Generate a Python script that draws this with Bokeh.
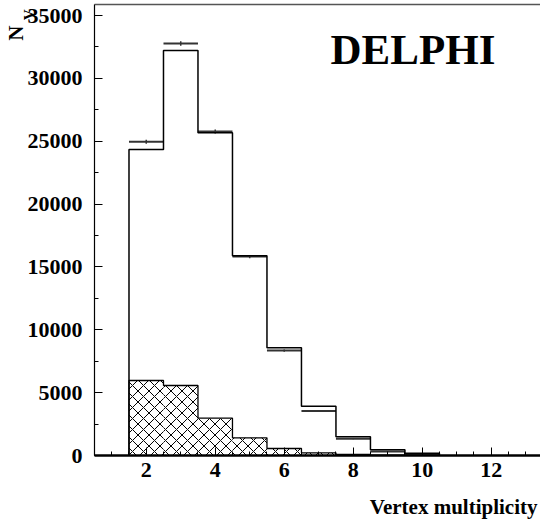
from bokeh.plotting import figure
from bokeh.models import (Range1d, SingleIntervalTicker, FixedTicker, LinearAxis,
                          Label, Title)
from bokeh.embed import file_html
from bokeh.resources import INLINE

# ---- data ----
bin_centers = [2, 3, 4, 5, 6, 7, 8, 9, 10]
mc_counts = [24340, 32216, 25670, 15880, 8570, 3920, 1500, 450, 185]
data_counts = [24950, 32770, 25770, 15820, 8350, 3530, 1330, 320, 100]
data_errors = [160, 180, 160, 130, 90, 60, 40, 20, 10]
bkg_counts = [5966, 5568, 2970, 1406, 557, 212, 80, 20, 0]
x_label = "Vertex multiplicity"
y_label = "N"
y_sub = "V"
title_text = "DELPHI"

FONT = "Liberation Serif"

lefts = [c - 0.5 for c in bin_centers]
rights = [c + 0.5 for c in bin_centers]
step_x = [lefts[0]] + lefts + [rights[-1]]

p = figure(width=540, height=531, output_backend="svg", toolbar_location=None,
           x_range=Range1d(0.5, 13.43), y_range=Range1d(0, 35875),
           min_border_left=94, min_border_right=0, min_border_top=4,
           min_border_bottom=76, background_fill_color="white",
           border_fill_color="white")
p.grid.visible = False
p.outline_line_color = None

# background (hatched)
p.quad(left=lefts, right=rights, bottom=0, top=bkg_counts,
       fill_color="white", line_color=None, hatch_pattern="x",
       hatch_color="black", hatch_scale=11, hatch_weight=1)
p.step(x=step_x, y=[0] + bkg_counts + [0], mode="after",
       line_color="black", line_width=1.3)

# data
p.segment(x0=lefts, x1=rights, y0=data_counts, y1=data_counts,
          line_color="#333333", line_width=2)
p.segment(x0=bin_centers, x1=bin_centers,
          y0=[d - e for d, e in zip(data_counts, data_errors)],
          y1=[d + e for d, e in zip(data_counts, data_errors)],
          line_color="#333333", line_width=1.5)

# MC histogram
p.step(x=step_x, y=[0] + mc_counts + [0], mode="after",
       line_color="black", line_width=1.5)

# axes
xa = p.xaxis[0]
xa.ticker = SingleIntervalTicker(interval=2, num_minor_ticks=4)
xa.major_tick_in = 8
xa.major_tick_out = 0
xa.minor_tick_in = 4
xa.minor_tick_out = 0
xa.axis_line_width = 2.5
xa.major_label_standoff = 7
ya = p.yaxis[0]
ya.ticker = SingleIntervalTicker(interval=5000, num_minor_ticks=2)
ya.major_tick_in = 8
ya.major_tick_out = 0
ya.minor_tick_in = 4
ya.minor_tick_out = 0
ya.axis_line_width = 1.2
ya.major_label_standoff = 12
for ax in (xa, ya):
    ax.major_label_text_font = FONT
    ax.major_label_text_font_style = "bold"
    ax.major_label_text_font_size = "22px"
    ax.major_label_text_color = "black"
    ax.axis_line_color = "black"
    ax.major_tick_line_color = "black"
    ax.minor_tick_line_color = "black"

top = LinearAxis(ticker=FixedTicker(ticks=[]), major_tick_in=0,
                 major_tick_out=0, minor_tick_in=0, minor_tick_out=0,
                 major_label_standoff=0, axis_line_color="#555555",
                 axis_line_width=1.5)
p.add_layout(top, "above")

# axis titles
p.add_layout(Title(text=x_label, align="right", offset=3, standoff=26,
                   text_font=FONT, text_font_style="bold",
                   text_font_size="21px", text_color="black"), "below")
p.add_layout(Title(text=y_sub, align="right", offset=5, standoff=-24,
                   text_font=FONT, text_font_style="bold",
                   text_font_size="15px", text_color="black"), "left")
p.add_layout(Title(text=y_label, align="right", offset=21, standoff=-7,
                   text_font=FONT, text_font_style="bold",
                   text_font_size="21px", text_color="black"), "left")

p.add_layout(Label(x=236, y=406, x_units="screen", y_units="screen",
                   text=title_text, text_font=FONT, text_font_style="bold",
                   text_font_size="43px", text_align="left",
                   text_baseline="middle", text_color="black"))

open("out.html", "w").write(file_html(p, INLINE))
